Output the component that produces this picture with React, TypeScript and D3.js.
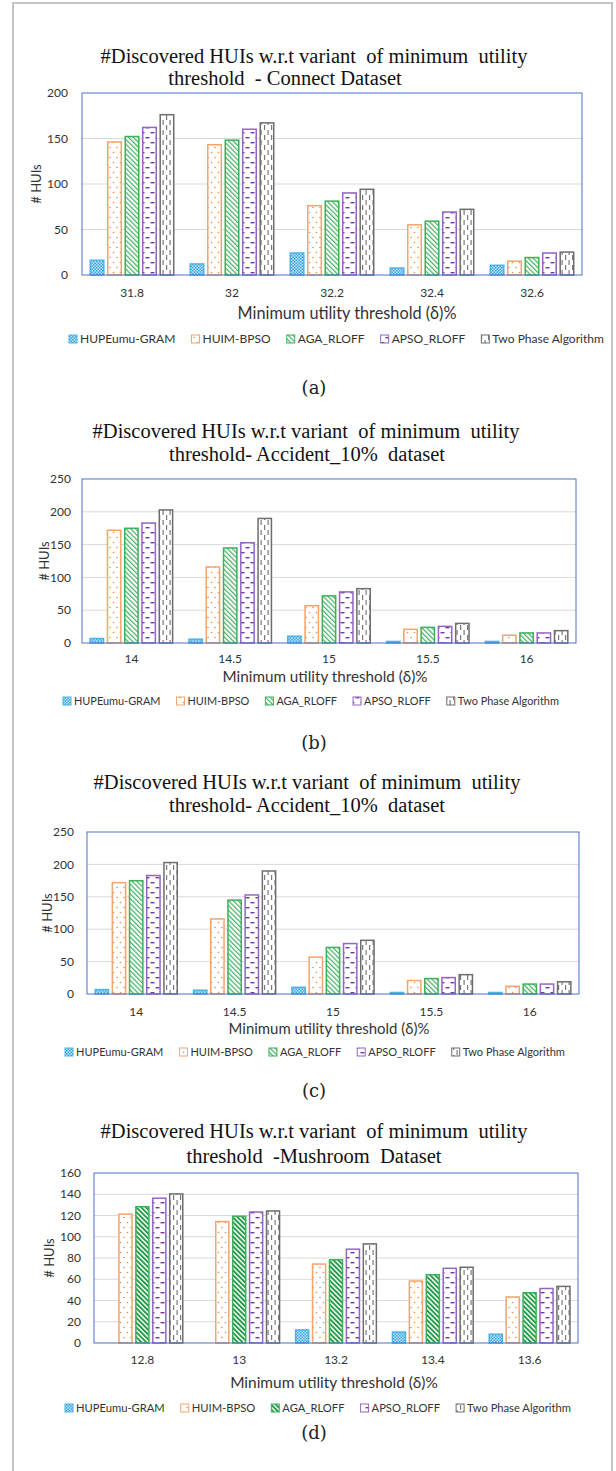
import React, { useRef, useEffect } from 'react';
import * as d3 from 'd3';

const series = ['HUPEumu-GRAM', 'HUIM-BPSO', 'AGA_RLOFF', 'APSO_RLOFF', 'Two Phase Algorithm'];

// (a) Connect dataset
const connectThresholds = ['31.8', '32', '32.2', '32.4', '32.6'];
const connectHupe = [17, 13, 25, 8.5, 11.5];
const connectHuim = [147, 144, 77, 56, 16];
const connectAga = [153, 149, 82, 60, 20];
const connectApso = [163, 161, 91, 70, 25];
const connectTwo = [177, 168, 95, 73, 26];

// (b) and (c) Accident_10% dataset
const accidentThresholds = ['14', '14.5', '15', '15.5', '16'];
const accidentHupe = [8, 7, 11.5, 3.5, 3.5];
const accidentHuim = [173, 117, 58, 22, 13];
const accidentAga = [176, 146, 73, 25, 16.5];
const accidentApso = [184, 154, 79, 26.5, 16.5];
const accidentTwo = [204, 191, 84, 31, 20];

// (d) Mushroom dataset
const mushroomThresholds = ['12.8', '13', '13.2', '13.4', '13.6'];
const mushroomHupe = [0, 0, 13, 11, 9];
const mushroomHuim = [122, 115, 75, 59, 44];
const mushroomAga = [129, 120, 79, 65, 48];
const mushroomApso = [137, 124, 89, 71, 52];
const mushroomTwo = [141, 125, 94, 72, 54];

const strokes = ['#4db3e6', '#f4a46c', '#3cb05a', '#9466c4', '#6e6e6e'];

const charts = [
  {
    title: ['#Discovered HUIs w.r.t variant  of minimum  utility', 'threshold  - Connect Dataset'],
    titleX: [314, 285], titleY: [63, 85],
    caption: '(a)', captionY: 394,
    cats: connectThresholds,
    values: [connectHupe, connectHuim, connectAga, connectApso, connectTwo],
    yMax: 200, yStep: 50,
    left: 82, right: 582, top: 93, bottom: 275, tickGap: 14,
    yLabelX: 36, xLabelY: 293, xTitleX: 347, xTitleY: 313, xTitleW: 219,
    legendX: 69, legendEnd: 604, legendY: 339, agaId: 'aga',
  },
  {
    title: ['#Discovered HUIs w.r.t variant  of minimum  utility', 'threshold- Accident_10%  dataset'],
    titleX: [306, 307], titleY: [438, 461],
    caption: '(b)', captionY: 749,
    cats: accidentThresholds,
    values: [accidentHupe, accidentHuim, accidentAga, accidentApso, accidentTwo],
    yMax: 250, yStep: 50,
    left: 82, right: 576, top: 479, bottom: 643, tickGap: 11,
    yLabelX: 44, xLabelY: 659, xTitleX: 325, xTitleY: 677, xTitleW: 205,
    legendX: 63, legendEnd: 559, legendY: 701, agaId: 'aga',
  },
  {
    title: ['#Discovered HUIs w.r.t variant  of minimum  utility', 'threshold- Accident_10%  dataset'],
    titleX: [307, 307], titleY: [789, 812],
    caption: '(c)', captionY: 1097,
    cats: accidentThresholds,
    values: [accidentHupe, accidentHuim, accidentAga, accidentApso, accidentTwo],
    yMax: 250, yStep: 50,
    left: 87, right: 579, top: 832, bottom: 994, tickGap: 13,
    yLabelX: 47, xLabelY: 1012, xTitleX: 329, xTitleY: 1029, xTitleW: 201,
    legendX: 65, legendEnd: 565, legendY: 1052, agaId: 'aga',
  },
  {
    title: ['#Discovered HUIs w.r.t variant  of minimum  utility', 'threshold  -Mushroom  Dataset'],
    titleX: [314, 314], titleY: [1138, 1163],
    caption: '(d)', captionY: 1439,
    cats: mushroomThresholds,
    values: [mushroomHupe, mushroomHuim, mushroomAga, mushroomApso, mushroomTwo],
    yMax: 160, yStep: 20,
    left: 94, right: 578, top: 1173, bottom: 1343, tickGap: 13,
    yLabelX: 49, xLabelY: 1360, xTitleX: 334, xTitleY: 1383, xTitleW: 208,
    legendX: 65, legendEnd: 571, legendY: 1408, agaId: 'agaDense',
  },
];

const sans = 'Lato, "Open Sans", sans-serif';

export default function App() {
  const svgRef = useRef<SVGSVGElement>(null);

  useEffect(() => {
    const svg = d3.select(svgRef.current);
    svg.selectAll('*').remove();

    // fill patterns
    const defs = svg.append('defs');
    const hupe = defs.append('pattern').attr('id', 'hupe').attr('patternUnits', 'userSpaceOnUse')
      .attr('width', 3).attr('height', 3);
    hupe.append('rect').attr('width', 3).attr('height', 3).attr('fill', '#c9e7f8');
    hupe.append('rect').attr('width', 1.5).attr('height', 1.5).attr('fill', '#2fa4e0');
    hupe.append('rect').attr('x', 1.5).attr('y', 1.5).attr('width', 1.5).attr('height', 1.5).attr('fill', '#2fa4e0');

    const huim = defs.append('pattern').attr('id', 'huim').attr('patternUnits', 'userSpaceOnUse')
      .attr('width', 7).attr('height', 10);
    huim.append('rect').attr('width', 7).attr('height', 10).attr('fill', '#fff');
    huim.append('circle').attr('cx', 1.5).attr('cy', 2.5).attr('r', 0.8).attr('fill', '#f08a3e');
    huim.append('circle').attr('cx', 5).attr('cy', 7.5).attr('r', 0.8).attr('fill', '#f08a3e');

    [['aga', 1.2, '#45b062'], ['agaDense', 1.9, '#1f9a45']].forEach(([id, w, col]) => {
      const p = defs.append('pattern').attr('id', id as string).attr('patternUnits', 'userSpaceOnUse')
        .attr('width', 3.4).attr('height', 3.4).attr('patternTransform', 'rotate(-45)');
      p.append('rect').attr('width', 3.4).attr('height', 3.4).attr('fill', '#fff');
      p.append('rect').attr('width', w as number).attr('height', 3.4).attr('fill', col as string);
    });

    const apso = defs.append('pattern').attr('id', 'apso').attr('patternUnits', 'userSpaceOnUse')
      .attr('width', 10).attr('height', 10);
    apso.append('rect').attr('width', 10).attr('height', 10).attr('fill', '#fff');
    apso.append('rect').attr('x', 0.5).attr('y', 2).attr('width', 4).attr('height', 1.4).attr('fill', '#7436ab');
    apso.append('rect').attr('x', 5.5).attr('y', 7).attr('width', 4).attr('height', 1.4).attr('fill', '#7436ab');

    const two = defs.append('pattern').attr('id', 'two').attr('patternUnits', 'userSpaceOnUse')
      .attr('width', 7).attr('height', 10);
    two.append('rect').attr('width', 7).attr('height', 10).attr('fill', '#fff');
    two.append('rect').attr('x', 1.5).attr('y', 0).attr('width', 1.2).attr('height', 5).attr('fill', '#7a7a7a');
    two.append('rect').attr('x', 5).attr('y', 5).attr('width', 1.2).attr('height', 5).attr('fill', '#7a7a7a');

    // page frame
    svg.append('rect').attr('x', 13).attr('y', 3).attr('width', 599).attr('height', 1490)
      .attr('fill', 'none').attr('stroke', '#c4c4c4').attr('stroke-width', 2);

    charts.forEach((c) => {
      const g = svg.append('g');
      const fills = ['url(#hupe)', 'url(#huim)', `url(#${c.agaId})`, 'url(#apso)', 'url(#two)'];

      c.title.forEach((t, i) => {
        g.append('text').attr('x', c.titleX[i]).attr('y', c.titleY[i])
          .attr('text-anchor', 'middle')
          .style('font-family', '"Liberation Serif", serif').style('font-size', '20.5px')
          .style('white-space', 'pre').attr('fill', '#111').text(t);
      });

      const x = d3.scaleBand<string>().domain(c.cats).range([c.left, c.right]);
      const xs = d3.scaleBand<string>().domain(series).range([0, x.bandwidth()])
        .paddingInner(0.14).paddingOuter(0.43);
      const y = d3.scaleLinear().domain([0, c.yMax]).range([c.bottom, c.top]);
      const ticks = d3.range(0, c.yMax + 1, c.yStep);

      g.selectAll(null).data(ticks.filter(t => t > 0 && t < c.yMax)).enter().append('line')
        .attr('x1', c.left).attr('x2', c.right)
        .attr('y1', d => y(d)).attr('y2', d => y(d))
        .attr('stroke', '#d9d9d9').attr('stroke-width', 1);

      const sw = 1.5;
      series.forEach((s, si) => {
        const rows = c.values[si].map((v, i) => ({ cat: c.cats[i], v })).filter(d => d.v > 0);
        g.selectAll(null).data(rows).enter().append('rect')
          .attr('x', d => (x(d.cat) as number) + (xs(s) as number) + sw / 2)
          .attr('y', d => y(d.v) + sw / 2)
          .attr('width', xs.bandwidth() - sw)
          .attr('height', d => Math.max(0, c.bottom - y(d.v) - sw / 2))
          .attr('fill', fills[si]).attr('stroke', strokes[si]).attr('stroke-width', sw);
      });

      g.append('rect').attr('x', c.left).attr('y', c.top)
        .attr('width', c.right - c.left).attr('height', c.bottom - c.top)
        .attr('fill', 'none').attr('stroke', '#4a72c4').attr('stroke-width', 1);

      g.selectAll(null).data(ticks).enter().append('text')
        .attr('x', c.left - c.tickGap).attr('y', d => y(d))
        .attr('dy', '0.35em').attr('text-anchor', 'end')
        .style('font-family', sans).style('font-size', '12px').attr('fill', '#333')
        .text(d => d);

      g.append('text')
        .attr('transform', `translate(${c.yLabelX},${(c.top + c.bottom) / 2}) rotate(-90)`)
        .attr('dy', '0.35em').attr('text-anchor', 'middle')
        .style('font-family', sans).style('font-size', '13px').attr('fill', '#333')
        .text('# HUIs');

      g.selectAll(null).data(c.cats).enter().append('text')
        .attr('x', d => (x(d) as number) + x.bandwidth() / 2).attr('y', c.xLabelY)
        .attr('dy', '0.35em').attr('text-anchor', 'middle')
        .style('font-family', sans).style('font-size', '12px').attr('fill', '#333')
        .text(d => d);

      // x title, font sized to the width it has in the figure
      const xt = g.append('text').attr('x', c.xTitleX).attr('y', c.xTitleY)
        .attr('dy', '0.35em').attr('text-anchor', 'middle')
        .style('font-family', sans).style('font-size', '10px').attr('fill', '#333')
        .text('Minimum utility threshold (δ)%');
      const xw = (xt.node() as SVGTextElement).getComputedTextLength();
      xt.style('font-size', `${(10 * c.xTitleW) / xw}px`);

      // legend: measure at 10px, then scale font to fill the span
      const swatch = 11, gap = 16;
      const probe = series.map(s => {
        const t = g.append('text').style('font-family', sans).style('font-size', '10px').text(s);
        const w = (t.node() as SVGTextElement).getComputedTextLength();
        t.remove();
        return w;
      });
      const fs = 10 * (c.legendEnd - c.legendX - series.length * swatch - (series.length - 1) * gap) / d3.sum(probe);
      let lx = c.legendX;
      series.forEach((s, si) => {
        g.append('rect').attr('x', lx).attr('y', c.legendY - 4).attr('width', 8).attr('height', 8)
          .attr('fill', fills[si]).attr('stroke', strokes[si]).attr('stroke-width', 1);
        g.append('text').attr('x', lx + swatch).attr('y', c.legendY)
          .attr('dy', '0.35em')
          .style('font-family', sans).style('font-size', `${fs}px`).attr('fill', '#333')
          .text(s);
        lx += swatch + (probe[si] * fs) / 10 + gap;
      });

      g.append('text').attr('x', 314).attr('y', c.captionY)
        .attr('text-anchor', 'middle')
        .style('font-family', '"DejaVu Serif", serif').style('font-size', '18px').attr('fill', '#222')
        .text(c.caption);
    });
  }, []);

  return (
    <div style={{ position: 'absolute', left: 0, top: 0 }}>
      <svg ref={svgRef} width={616} height={1471} style={{ display: 'block', background: '#fff' }} />
    </div>
  );
}
